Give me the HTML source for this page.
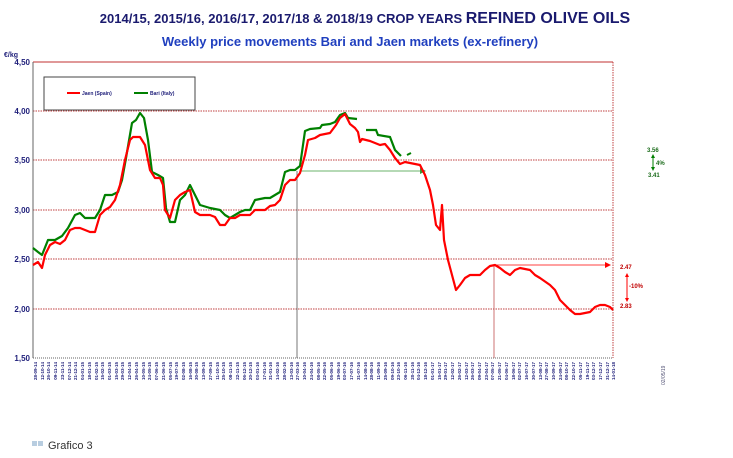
<!DOCTYPE html><html><head><meta charset="utf-8"><style>body{margin:0;background:#fff}svg{display:block;font-family:"Liberation Sans",Arial,sans-serif}</style></head><body>
<svg width="733" height="458" viewBox="0 0 733 458">
<text x="365" y="23" text-anchor="middle" font-weight="bold" fill="#1a1a6e" font-size="13">2014/15,  2015/16, 2016/17, 2017/18 &amp; 2018/19 CROP YEARS <tspan font-size="16">REFINED OLIVE OILS</tspan></text>
<text x="350" y="46" text-anchor="middle" font-weight="bold" fill="#1f3fbf" font-size="13">Weekly  price movements Bari  and Jaen markets (ex-refinery)</text>
<text x="4" y="57" font-size="7" font-weight="bold" fill="#1f1f7a">€/kg</text>
<g stroke="#c04040" stroke-dasharray="1.5,1" stroke-width="1" fill="none">
<line x1="33" y1="111" x2="613" y2="111"/><line x1="33" y1="160" x2="613" y2="160"/><line x1="33" y1="210" x2="613" y2="210"/><line x1="33" y1="259" x2="613" y2="259"/><line x1="33" y1="309" x2="613" y2="309"/><line x1="613" y1="62" x2="613" y2="358"/></g>
<line x1="33" y1="62" x2="613" y2="62" stroke="#c03030" stroke-width="1"/>
<line x1="33" y1="62" x2="33" y2="358" stroke="#666"/><line x1="33" y1="358" x2="613" y2="358" stroke="#666" stroke-dasharray="1,1"/>
<g font-size="8" font-weight="bold" fill="#1f1f7a" text-anchor="end"><text x="30" y="65">4,50</text><text x="30" y="114">4,00</text><text x="30" y="163">3,50</text><text x="30" y="213">3,00</text><text x="30" y="262">2,50</text><text x="30" y="312">2,00</text><text x="30" y="361">1,50</text></g>
<rect x="44" y="77" width="151" height="33" fill="#fff" stroke="#444"/>
<line x1="67" y1="93" x2="80" y2="93" stroke="red" stroke-width="2"/><text x="82" y="95" font-size="5" font-weight="bold" fill="#1f1f7a">Jaen (Spain)</text>
<line x1="134" y1="93" x2="148" y2="93" stroke="green" stroke-width="2"/><text x="150" y="95" font-size="5" font-weight="bold" fill="#1f1f7a">Bari (Italy)</text>
<line x1="297" y1="171" x2="297" y2="358" stroke="#555" stroke-width="0.8"/>
<line x1="300" y1="171" x2="420" y2="171" stroke="#3a9a3a" stroke-width="0.8"/><polygon points="420,168 426,171 420,174" fill="#3a9a3a"/>
<line x1="494" y1="265" x2="494" y2="358" stroke="#c05050" stroke-width="0.8"/>
<line x1="494" y1="265" x2="605" y2="265" stroke="red" stroke-width="0.8"/><polygon points="605,262 611,265 605,268" fill="red"/>
<polyline fill="none" stroke="green" stroke-width="2.2" stroke-linejoin="round" points="33,248 38,252 42,255 48,240 55,240 62,236 68,228 75,215 80,213 85,218 95,218 100,210 105,195 112,195 118,192 122,180 126,158 132,123 136,120 140,113 144,118 148,140 152,172 158,175 163,178 166,208 170,222 175,222 180,200 185,195 190,185 195,195 200,205 210,208 220,210 225,215 230,218 235,215 240,212 245,210 250,210 255,200 265,198 270,198 275,195 280,192 285,172 290,170 295,170 300,166 305,131 310,129 320,128 322,125 330,124 335,122 340,115 345,113 348,118 357,119"/>
<polyline fill="none" stroke="green" stroke-width="2.2" points="366,130 376,130 378,135 390,137 395,150 401,156"/><line x1="407" y1="155" x2="411" y2="153" stroke="green" stroke-width="2"/>
<polyline fill="none" stroke="red" stroke-width="2.2" stroke-linejoin="round" points="33,265 38,262 42,268 45,255 50,245 55,242 60,244 65,240 70,230 75,228 80,228 85,230 90,232 95,232 100,215 105,210 110,207 115,200 120,185 125,160 130,140 133,137 140,137 145,145 150,170 155,178 160,178 163,185 165,210 170,218 175,200 180,195 185,192 190,190 195,212 200,215 210,215 215,217 220,225 225,225 230,218 235,218 240,215 250,215 255,210 265,210 270,206 275,205 280,200 285,185 290,180 295,180 300,173 305,155 308,140 315,138 320,135 330,133 336,125 340,118 345,114 350,124 355,128 358,132 360,142 362,139 370,141 380,145 385,144 390,150 395,158 400,164 405,162 410,163 420,165 425,175 430,190 433,205 436,225 440,230 442,205 444,240 448,260 452,275 456,290 460,285 465,278 470,275 480,275 485,270 490,266 495,265 500,268 505,272 510,275 515,270 520,268 530,270 535,275 540,278 550,285 555,290 560,300 565,305 570,310 575,314 580,314 585,313 590,312 595,307 600,305 605,305 610,307 613,310"/>
<g font-size="6" font-weight="bold" fill="#1a6b1a"><text x="647" y="152">3.56</text><text x="656" y="165">4%</text><text x="648" y="177">3.41</text></g>
<line x1="653" y1="156" x2="653" y2="169" stroke="green"/><polygon points="651,158 653,154 655,158" fill="green"/><polygon points="651,167 653,171 655,167" fill="green"/>
<g font-size="6" font-weight="bold" fill="#c00000"><text x="620" y="269">2.47</text><text x="629" y="288">-10%</text><text x="620" y="308">2.83</text></g>
<line x1="627" y1="275" x2="627" y2="300" stroke="red"/><polygon points="625,277 627,273 629,277" fill="red"/><polygon points="625,298 627,302 629,298" fill="red"/>
<g font-size="4.5" font-weight="bold" fill="#1f1f7a" text-anchor="end">
<text transform="translate(37,362) rotate(-90)">28-09-14</text><text transform="translate(44,362) rotate(-90)">12-10-14</text><text transform="translate(50,362) rotate(-90)">26-10-14</text><text transform="translate(57,362) rotate(-90)">09-11-14</text><text transform="translate(64,362) rotate(-90)">23-11-14</text><text transform="translate(71,362) rotate(-90)">07-12-14</text><text transform="translate(77,362) rotate(-90)">21-12-14</text><text transform="translate(84,362) rotate(-90)">04-01-15</text><text transform="translate(91,362) rotate(-90)">18-01-15</text><text transform="translate(98,362) rotate(-90)">01-02-15</text><text transform="translate(104,362) rotate(-90)">15-02-15</text><text transform="translate(111,362) rotate(-90)">01-03-15</text><text transform="translate(118,362) rotate(-90)">15-03-15</text><text transform="translate(124,362) rotate(-90)">29-03-15</text><text transform="translate(131,362) rotate(-90)">12-04-15</text><text transform="translate(138,362) rotate(-90)">26-04-15</text><text transform="translate(145,362) rotate(-90)">10-05-15</text><text transform="translate(151,362) rotate(-90)">24-05-15</text><text transform="translate(158,362) rotate(-90)">07-06-15</text><text transform="translate(165,362) rotate(-90)">21-06-15</text><text transform="translate(172,362) rotate(-90)">05-07-15</text><text transform="translate(178,362) rotate(-90)">19-07-15</text><text transform="translate(185,362) rotate(-90)">02-08-15</text><text transform="translate(192,362) rotate(-90)">16-08-15</text><text transform="translate(198,362) rotate(-90)">30-08-15</text><text transform="translate(205,362) rotate(-90)">13-09-15</text><text transform="translate(212,362) rotate(-90)">27-09-15</text><text transform="translate(219,362) rotate(-90)">11-10-15</text><text transform="translate(225,362) rotate(-90)">25-10-15</text><text transform="translate(232,362) rotate(-90)">08-11-15</text><text transform="translate(239,362) rotate(-90)">22-11-15</text><text transform="translate(246,362) rotate(-90)">06-12-15</text><text transform="translate(252,362) rotate(-90)">20-12-15</text><text transform="translate(259,362) rotate(-90)">03-01-16</text><text transform="translate(266,362) rotate(-90)">17-01-16</text><text transform="translate(272,362) rotate(-90)">31-01-16</text><text transform="translate(279,362) rotate(-90)">14-02-16</text><text transform="translate(286,362) rotate(-90)">28-02-16</text><text transform="translate(293,362) rotate(-90)">13-03-16</text><text transform="translate(299,362) rotate(-90)">27-03-16</text><text transform="translate(306,362) rotate(-90)">10-04-16</text><text transform="translate(313,362) rotate(-90)">24-04-16</text><text transform="translate(320,362) rotate(-90)">08-05-16</text><text transform="translate(326,362) rotate(-90)">22-05-16</text><text transform="translate(333,362) rotate(-90)">05-06-16</text><text transform="translate(340,362) rotate(-90)">19-06-16</text><text transform="translate(346,362) rotate(-90)">03-07-16</text><text transform="translate(353,362) rotate(-90)">17-07-16</text><text transform="translate(360,362) rotate(-90)">31-07-16</text><text transform="translate(367,362) rotate(-90)">14-08-16</text><text transform="translate(373,362) rotate(-90)">28-08-16</text><text transform="translate(380,362) rotate(-90)">11-09-16</text><text transform="translate(387,362) rotate(-90)">25-09-16</text><text transform="translate(394,362) rotate(-90)">09-10-16</text><text transform="translate(400,362) rotate(-90)">23-10-16</text><text transform="translate(407,362) rotate(-90)">06-11-16</text><text transform="translate(414,362) rotate(-90)">20-11-16</text><text transform="translate(420,362) rotate(-90)">04-12-16</text><text transform="translate(427,362) rotate(-90)">18-12-16</text><text transform="translate(434,362) rotate(-90)">01-01-17</text><text transform="translate(441,362) rotate(-90)">15-01-17</text><text transform="translate(447,362) rotate(-90)">29-01-17</text><text transform="translate(454,362) rotate(-90)">12-02-17</text><text transform="translate(461,362) rotate(-90)">26-02-17</text><text transform="translate(468,362) rotate(-90)">12-03-17</text><text transform="translate(474,362) rotate(-90)">26-03-17</text><text transform="translate(481,362) rotate(-90)">09-04-17</text><text transform="translate(488,362) rotate(-90)">23-04-17</text><text transform="translate(494,362) rotate(-90)">07-05-17</text><text transform="translate(501,362) rotate(-90)">21-05-17</text><text transform="translate(508,362) rotate(-90)">04-06-17</text><text transform="translate(515,362) rotate(-90)">18-06-17</text><text transform="translate(521,362) rotate(-90)">02-07-17</text><text transform="translate(528,362) rotate(-90)">16-07-17</text><text transform="translate(535,362) rotate(-90)">30-07-17</text><text transform="translate(542,362) rotate(-90)">13-08-17</text><text transform="translate(548,362) rotate(-90)">27-08-17</text><text transform="translate(555,362) rotate(-90)">10-09-17</text><text transform="translate(562,362) rotate(-90)">24-09-17</text><text transform="translate(568,362) rotate(-90)">08-10-17</text><text transform="translate(575,362) rotate(-90)">22-10-17</text><text transform="translate(582,362) rotate(-90)">05-11-17</text><text transform="translate(589,362) rotate(-90)">19-11-17</text><text transform="translate(595,362) rotate(-90)">03-12-17</text><text transform="translate(602,362) rotate(-90)">17-12-17</text><text transform="translate(609,362) rotate(-90)">31-12-17</text><text transform="translate(615,362) rotate(-90)">14-01-18</text>
</g>
<text transform="translate(665,385) rotate(-90)" font-size="5" fill="#557">02/05/19</text>
<rect x="32" y="441" width="5" height="5" fill="#b8cde0"/><rect x="38" y="441" width="5" height="5" fill="#b8cde0"/>
<text x="48" y="449" font-size="11" fill="#333">Grafico 3</text>
</svg></body></html>
